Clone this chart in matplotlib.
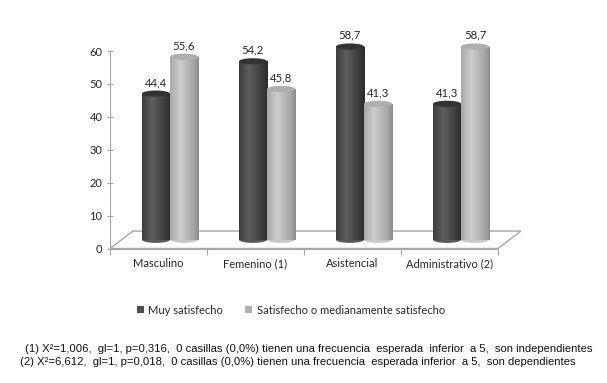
import matplotlib
matplotlib.use("Agg")
import matplotlib.pyplot as plt
import numpy as np
from matplotlib.patches import Rectangle, Ellipse, Polygon, Patch
from matplotlib.colors import LinearSegmentedColormap

categories = ["Masculino", "Femenino (1)", "Asistencial", "Administrativo (2)"]
muy_satisfecho = [44.4, 54.2, 58.7, 41.3]
satisfecho = [55.6, 45.8, 41.3, 58.7]
series_names = ["Muy satisfecho", "Satisfecho o medianamente satisfecho"]
yticks = [0, 10, 20, 30, 40, 50, 60]
value_labels_1 = ["44,4", "54,2", "58,7", "41,3"]
value_labels_2 = ["55,6", "45,8", "41,3", "58,7"]
notes = [
    "(1) X\u00b2=1,006,  gl=1, p=0,316,  0 casillas (0,0%) tienen una frecuencia  esperada  inferior  a 5,  son independientes",
    "(2) X\u00b2=6,612,  gl=1, p=0,018,  0 casillas (0,0%) tienen una frecuencia  esperada inferior  a 5,  son dependientes",
]

W, H = 607, 383
fig = plt.figure(figsize=(W / 100, H / 100), dpi=100)
fig.patch.set_facecolor("white")
y_top_px, y0_px = 51, 248.5
ax = fig.add_axes([110 / W, (H - y0_px) / H, 388 / W, (y0_px - y_top_px) / H])
ax.set_xlim(-0.5, 3.5)
ax.set_ylim(0, 60)
ax.patch.set_alpha(0)

grid_col = "#a6a6a6"
text_col = "#262626"
font = ["Lato", "DejaVu Sans"]

# 3D depth offsets
dx = 0.237
dy = 5.3
barw = 0.289
ell_h = 1.9

# floor
floor = Polygon([(-0.5, 0), (3.5, 0), (3.5 + dx, dy), (-0.5 + dx, dy)],
                closed=True, facecolor="white", edgecolor=grid_col, lw=1.0,
                zorder=1, clip_on=False)
ax.add_patch(floor)

def profile(c_edge, c_peak, c_right):
    return LinearSegmentedColormap.from_list(
        "p", [(0, c_edge), (0.35, c_peak), (0.8, c_edge), (1.0, c_right)])

cmap_dark = profile("#3c3c3c", "#5e5e5e", "#2c2c2c")
cmap_light = profile("#a8a8a8", "#cdcdcd", "#8e8e8e")
grad = np.linspace(0, 1, 64)[None, :]

def cylinder(xc, val, cmap, top_col, z):
    base = dy / 2
    top = base + val
    x0, x1 = xc - barw / 2, xc + barw / 2
    bottom = Ellipse((xc, base), barw, ell_h, facecolor=cmap(0.3), edgecolor="none", zorder=z, clip_on=False)
    ax.add_patch(bottom)
    rect = Rectangle((x0, base), barw, val, facecolor="none", edgecolor="none", zorder=z)
    ax.add_patch(rect)
    im = ax.imshow(grad, extent=[x0, x1, base, top], aspect="auto", cmap=cmap,
                   zorder=z, interpolation="bilinear")
    im.set_clip_path(rect)
    topell = Ellipse((xc, top), barw, ell_h, facecolor=top_col, edgecolor="none", zorder=z + 0.1, clip_on=False)
    ax.add_patch(topell)
    return top

shift = dx / 2
for i in range(len(categories)):
    xd = i + shift - barw / 2
    xl = i + shift + barw / 2
    t1 = cylinder(xd, muy_satisfecho[i], cmap_dark, "#333333", 3)
    t2 = cylinder(xl, satisfecho[i], cmap_light, "#aeaeae", 4)
    ax.text(xd, t1 + 3.4, value_labels_1[i], ha="center", va="center",
            fontsize=8.2, color=text_col, family=font, zorder=6)
    ax.text(xl, t2 + 3.4, value_labels_2[i], ha="center", va="center",
            fontsize=8.2, color=text_col, family=font, zorder=6)

ax.set_xlim(-0.5, 3.5)
ax.set_ylim(0, 60)

for s in ["top", "right"]:
    ax.spines[s].set_visible(False)
ax.spines["left"].set_color(grid_col)
ax.spines["bottom"].set_color(grid_col)
ax.set_yticks(yticks)
ax.set_yticklabels([str(v) for v in yticks], family=font, fontsize=8, color=text_col)
ax.tick_params(axis="y", direction="inout", length=5, color=grid_col, pad=3)
ax.set_xticks([-0.5, 0.5, 1.5, 2.5, 3.5])
ax.set_xticklabels([])
ax.tick_params(axis="x", which="major", direction="out", length=4, color=grid_col)
ax.set_xticks(range(len(categories)), minor=True)
ax.set_xticklabels(categories, minor=True, family=font, fontsize=8, color=text_col)
ax.tick_params(axis="x", which="minor", length=0, pad=7)

handles = [Patch(facecolor="#4d4d4d", edgecolor="none"),
           Patch(facecolor="#b0b0b0", edgecolor="none")]
fig.legend(handles, series_names, loc="center", bbox_to_anchor=(291 / W, 1 - 310 / H),
           ncol=2, frameon=False, prop={"family": font, "size": 8},
           handlelength=0.6, handleheight=0.6, handletextpad=0.4, columnspacing=2.0,
           labelcolor=text_col)

note_font = ["Liberation Sans Narrow", "Liberation Sans", "DejaVu Sans"]
fig.text(25 / W, 1 - 349 / H, notes[0], ha="left", va="center", fontsize=8.15,
         family=note_font, color="#111111")
fig.text(20 / W, 1 - 362 / H, notes[1], ha="left", va="center", fontsize=8.15,
         family=note_font, color="#111111")

fig.savefig("out.png", dpi=100, facecolor="white")
